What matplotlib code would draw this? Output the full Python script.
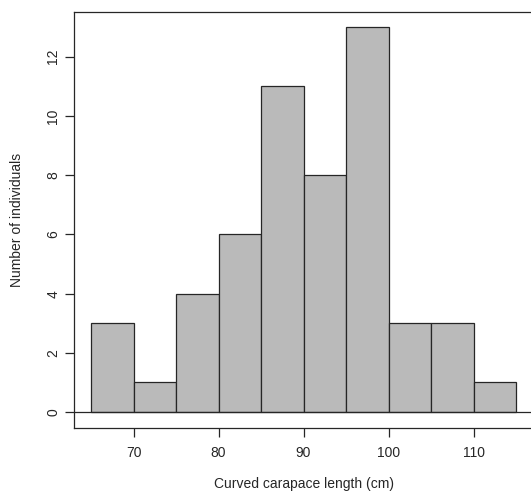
import matplotlib
matplotlib.use("Agg")
import matplotlib.pyplot as plt
import numpy as np

# histogram bins and counts
bin_edges = [65, 70, 75, 80, 85, 90, 95, 100, 105, 110, 115]
counts = [3, 1, 4, 6, 11, 8, 13, 3, 3, 1]
x_ticks = [70, 80, 90, 100, 110]
y_ticks = [0, 2, 4, 6, 8, 10, 12]

ink = '#262626'
plt.rcParams['font.family'] = ['Liberation Sans', 'DejaVu Sans']

fig = plt.figure(figsize=(5.31, 4.94), dpi=100)
ax = fig.add_axes([74 / 531, 1 - 427.5 / 494, 459 / 531, 415.8 / 494])

edges = np.array(bin_edges)
ax.bar(edges[:-1], counts, width=np.diff(edges), align='edge',
       color='#bababa', edgecolor=ink, linewidth=0.9, zorder=2)
ax.axhline(0, color=ink, linewidth=0.9, zorder=3)

ax.set_xlim(63, 117)
ax.set_ylim(-0.52, 13.52)
ax.set_xticks(x_ticks)
ax.set_yticks(y_ticks)
ax.set_yticklabels([str(v) for v in y_ticks], rotation=90, va='center')

for s in ax.spines.values():
    s.set_color(ink)
    s.set_linewidth(0.9)

ax.tick_params(axis='both', direction='out', length=6.3, width=0.9,
               color=ink, labelcolor=ink, labelsize=10)
ax.tick_params(axis='x', pad=7)
ax.tick_params(axis='y', pad=3.5)

ax.set_xlabel('Curved carapace length (cm)', fontsize=10, color=ink, labelpad=12)
ax.set_ylabel('Number of individuals', fontsize=10, color=ink, labelpad=16)

fig.savefig('out.png', dpi=100, facecolor='white')
